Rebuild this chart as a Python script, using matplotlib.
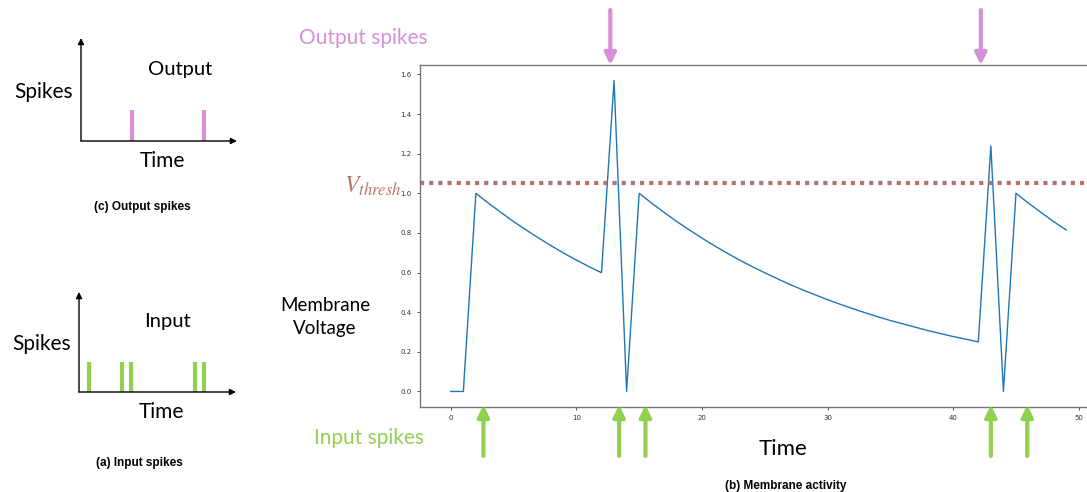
import matplotlib
matplotlib.use('Agg')
import matplotlib.pyplot as plt

# membrane voltage, one value per time step
time_steps = list(range(50))
membrane_v = [0.0, 0.0, 1.0, 0.95, 0.903, 0.857, 0.815, 0.774, 0.735, 0.698,
              0.663, 0.630, 0.599, 1.569, 0.0, 1.0, 0.95, 0.903, 0.857, 0.815,
              0.774, 0.735, 0.698, 0.663, 0.630, 0.599, 0.569, 0.540, 0.513, 0.488,
              0.463, 0.440, 0.418, 0.397, 0.377, 0.358, 0.341, 0.324, 0.307, 0.292,
              0.277, 0.264, 0.250, 1.238, 0.0, 1.0, 0.95, 0.903, 0.857, 0.815]
v_thresh = 1.05

# arrow positions under / over the main plot (in time units)
input_arrow_t = [2.6, 13.4, 15.5, 43.0, 45.9]
output_arrow_t = [12.7, 42.2]

# spike rasters of the small sketches (fraction of the time axis)
sketch_output_spikes = [0.327, 0.788]
sketch_input_spikes = [0.064, 0.274, 0.331, 0.739, 0.796]
sketch_spike_height = 0.3

W, H = 1087, 492
PINK = '#d590d8'
GREEN = '#92d050'
THRESH = '#b5736d'
LABEL_FONT = ['Lato', 'DejaVu Sans']
CAPTION_FONT = ['Liberation Sans', 'DejaVu Sans']

plt.rcParams['mathtext.fontset'] = 'stix'


def fx(x):
    return x / W


def fy(y):
    return 1 - y / H


def px_axes(x0, y0, x1, y1):
    # left, top, right, bottom in pixels -> figure rect
    return [fx(x0), fy(y1), fx(x1) - fx(x0), fy(y0) - fy(y1)]


fig = plt.figure(figsize=(W / 100, H / 100), dpi=100)

# ---- main membrane plot ----
ax = fig.add_axes(px_axes(420, 65, 1097, 407))
ax.plot(time_steps, membrane_v, color='#1f77b4', linewidth=1)
ax.axhline(v_thresh, color=THRESH, linestyle=(0, (1, 1.2)), linewidth=3)
ax.set_xticks([0, 10, 20, 30, 40, 50])
ax.set_yticks([0.0, 0.2, 0.4, 0.6, 0.8, 1.0, 1.2, 1.4, 1.6])
ax.tick_params(labelsize=5, length=2.5, width=0.6, colors='#333333', pad=3)
ax.tick_params(axis='y', pad=3.5)
for s in ax.spines.values():
    s.set_color('#777777')
    s.set_linewidth(1)

for t in input_arrow_t:
    ax.annotate('', xy=(t, fy(405)), xytext=(t, fy(456)),
                xycoords=('data', 'figure fraction'),
                textcoords=('data', 'figure fraction'),
                arrowprops=dict(arrowstyle='-|>', color=GREEN, lw=3,
                                mutation_scale=17, shrinkA=0, shrinkB=0),
                annotation_clip=False)
for t in output_arrow_t:
    ax.annotate('', xy=(t, fy(65)), xytext=(t, fy(10)),
                xycoords=('data', 'figure fraction'),
                textcoords=('data', 'figure fraction'),
                arrowprops=dict(arrowstyle='-|>', color=PINK, lw=3,
                                mutation_scale=17, shrinkA=0, shrinkB=0),
                annotation_clip=False)

fig.text(fx(401), fy(186), r'$V_{thresh}$', color=THRESH, fontsize=17,
         ha='right', va='center')
fig.text(fx(363), fy(38), 'Output spikes', color=PINK, fontsize=15,
         family=LABEL_FONT, ha='center', va='center')
fig.text(fx(369), fy(438), 'Input spikes', color=GREEN, fontsize=15,
         family=LABEL_FONT, ha='center', va='center')
fig.text(fx(325), fy(317), 'Membrane\nVoltage', fontsize=13.5,
         family=LABEL_FONT, ha='center', va='center', multialignment='center',
         linespacing=1.45)
fig.text(fx(783), fy(449), 'Time', fontsize=16, family=LABEL_FONT,
         ha='center', va='center')
fig.text(fx(786), fy(486), '(b) Membrane activity', fontsize=8.5,
         family=CAPTION_FONT, weight='bold', ha='center', va='center')


# ---- small sketches ----
def sketch(rect, spikes, color, title, title_xy, spikes_xy, time_xy,
           caption, caption_xy):
    a = fig.add_axes(rect)
    a.set_xlim(0, 1)
    a.set_ylim(0, 1)
    a.axis('off')
    a.vlines(spikes, 0, sketch_spike_height, color=color, linewidth=3)
    for end in [(1.0, 0.0), (0.0, 1.0)]:
        a.annotate('', xy=end, xytext=(0, 0), xycoords='axes fraction',
                   arrowprops=dict(arrowstyle='-|>', color='black', lw=1,
                                   mutation_scale=9, shrinkA=0, shrinkB=0),
                   annotation_clip=False)
    fig.text(fx(title_xy[0]), fy(title_xy[1]), title, fontsize=14.5,
             family=LABEL_FONT, ha='center', va='center')
    fig.text(fx(spikes_xy[0]), fy(spikes_xy[1]), 'Spikes', fontsize=15,
             family=LABEL_FONT, ha='center', va='center')
    fig.text(fx(time_xy[0]), fy(time_xy[1]), 'Time', fontsize=15,
             family=LABEL_FONT, ha='center', va='center')
    fig.text(fx(caption_xy[0]), fy(caption_xy[1]), caption, fontsize=8.5,
             family=CAPTION_FONT, weight='bold', ha='center', va='center')


sketch(px_axes(81, 38, 237, 141), sketch_output_spikes, PINK, 'Output',
       (180, 69), (44, 92), (162, 161), '(c) Output spikes', (142, 207))
sketch(px_axes(79, 292, 236, 392), sketch_input_spikes, GREEN, 'Input',
       (167, 321), (42, 344), (161, 412), '(a) Input spikes', (139, 463))

fig.savefig('out.png', dpi=100)
